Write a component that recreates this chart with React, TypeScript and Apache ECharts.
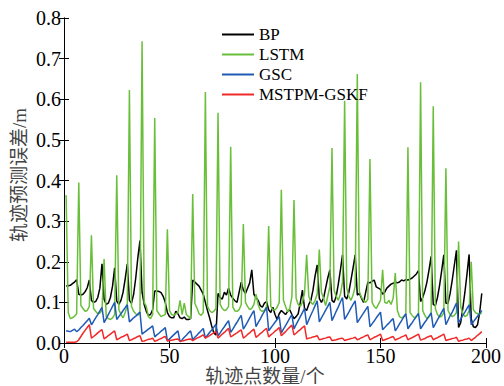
import React, { useEffect, useRef } from "react";
import * as echarts from "echarts";

// x positions: trajectory points 1..198
const BP = [
  0.140, 0.141, 0.142, 0.146, 0.150, 0.156,
  0.120, 0.118, 0.120, 0.126, 0.136, 0.155,
  0.105, 0.100, 0.102, 0.112, 0.135, 0.195,
  0.108, 0.095, 0.098, 0.112, 0.140, 0.185,
  0.103, 0.095, 0.105, 0.125, 0.158, 0.195,
  0.105, 0.098, 0.120, 0.160, 0.210, 0.252,
  0.125, 0.095, 0.078, 0.068, 0.070, 0.082,
  0.128, 0.128, 0.127, 0.124, 0.115, 0.100,
  0.075, 0.065, 0.062, 0.062, 0.078, 0.072,
  0.062, 0.060, 0.064, 0.058, 0.058, 0.060,
  0.155, 0.150, 0.145, 0.140, 0.130, 0.120,
  0.100, 0.080, 0.062, 0.042, 0.025, 0.020,
  0.122, 0.112, 0.108, 0.125, 0.118, 0.135,
  0.118, 0.110, 0.104, 0.100, 0.125, 0.150,
  0.130, 0.122, 0.135, 0.148, 0.180, 0.120,
  0.112, 0.105, 0.092, 0.088, 0.098, 0.102,
  0.082, 0.075, 0.088, 0.070, 0.058, 0.072,
  0.080, 0.075, 0.070, 0.078, 0.082, 0.070,
  0.060, 0.065, 0.072, 0.100, 0.130, 0.085,
  0.080, 0.095, 0.105, 0.130, 0.165, 0.192,
  0.110, 0.100, 0.110, 0.135, 0.160, 0.180,
  0.105, 0.100, 0.115, 0.145, 0.180, 0.217,
  0.115, 0.108, 0.125, 0.155, 0.185, 0.217,
  0.118, 0.122, 0.110, 0.100, 0.125, 0.150,
  0.148, 0.152, 0.155, 0.138, 0.135, 0.132,
  0.120, 0.125, 0.135, 0.140, 0.145, 0.147,
  0.150, 0.148, 0.150, 0.155, 0.153, 0.156,
  0.155, 0.157, 0.160, 0.165, 0.170, 0.178,
  0.102, 0.112, 0.128, 0.150, 0.180, 0.213,
  0.095, 0.092, 0.112, 0.142, 0.178, 0.217,
  0.098, 0.098, 0.122, 0.155, 0.192, 0.228,
  0.038, 0.050, 0.085, 0.125, 0.170, 0.218,
  0.060, 0.040, 0.038, 0.045, 0.075, 0.122,
];

const LSTM = [
  0.364, 0.075, 0.060, 0.062, 0.066, 0.072,
  0.395, 0.092, 0.085, 0.078, 0.080, 0.090,
  0.265, 0.085, 0.078, 0.072, 0.074, 0.080,
  0.207, 0.065, 0.060, 0.058, 0.062, 0.070,
  0.413, 0.082, 0.070, 0.062, 0.075, 0.093,
  0.623, 0.090, 0.078, 0.072, 0.068, 0.075,
  0.743, 0.100, 0.090, 0.065, 0.060, 0.070,
  0.554, 0.080, 0.072, 0.065, 0.068, 0.070,
  0.280, 0.080, 0.070, 0.068, 0.072, 0.075,
  0.105, 0.070, 0.098, 0.070, 0.065, 0.060,
  0.367, 0.098, 0.086, 0.072, 0.068, 0.075,
  0.618, 0.090, 0.080, 0.075, 0.078, 0.085,
  0.567, 0.095, 0.085, 0.080, 0.082, 0.090,
  0.483, 0.089, 0.079, 0.078, 0.082, 0.095,
  0.293, 0.100, 0.090, 0.082, 0.085, 0.095,
  0.120, 0.095, 0.081, 0.078, 0.080, 0.090,
  0.288, 0.090, 0.082, 0.081, 0.088, 0.100,
  0.377, 0.105, 0.090, 0.077, 0.085, 0.114,
  0.352, 0.110, 0.095, 0.090, 0.100, 0.123,
  0.217, 0.115, 0.100, 0.095, 0.105, 0.120,
  0.230, 0.125, 0.110, 0.092, 0.115, 0.139,
  0.480, 0.130, 0.115, 0.105, 0.120, 0.150,
  0.596, 0.135, 0.115, 0.105, 0.118, 0.140,
  0.662, 0.126, 0.112, 0.105, 0.100, 0.108,
  0.453, 0.100, 0.090, 0.085, 0.095, 0.105,
  0.180, 0.100, 0.098, 0.105, 0.095, 0.110,
  0.172, 0.080, 0.065, 0.062, 0.065, 0.070,
  0.482, 0.075, 0.068, 0.062, 0.066, 0.072,
  0.642, 0.080, 0.068, 0.060, 0.065, 0.072,
  0.583, 0.085, 0.070, 0.064, 0.066, 0.075,
  0.430, 0.080, 0.070, 0.065, 0.068, 0.075,
  0.250, 0.090, 0.072, 0.065, 0.068, 0.080,
  0.200, 0.082, 0.075, 0.072, 0.070, 0.075,
];

const GSC = [
  0.030, 0.029, 0.028, 0.031, 0.034, 0.028,
  0.032, 0.038, 0.043, 0.049, 0.055, 0.061,
  0.045, 0.053, 0.062, 0.070, 0.079, 0.088,
  0.050, 0.060, 0.070, 0.080, 0.090, 0.100,
  0.058, 0.065, 0.072, 0.080, 0.087, 0.094,
  0.052, 0.057, 0.062, 0.066, 0.071, 0.076,
  0.022, 0.026, 0.030, 0.034, 0.038, 0.042,
  0.015, 0.020, 0.024, 0.029, 0.033, 0.038,
  0.005, 0.010, 0.015, 0.020, 0.025, 0.030,
  0.003, 0.008, 0.014, 0.019, 0.025, 0.030,
  0.008, 0.014, 0.019, 0.025, 0.030, 0.036,
  0.012, 0.019, 0.026, 0.032, 0.039, 0.046,
  0.018, 0.025, 0.033, 0.040, 0.048, 0.055,
  0.026, 0.034, 0.043, 0.051, 0.060, 0.068,
  0.034, 0.043, 0.052, 0.062, 0.071, 0.080,
  0.040, 0.050, 0.059, 0.069, 0.078, 0.088,
  0.030, 0.037, 0.044, 0.051, 0.058, 0.065,
  0.025, 0.034, 0.043, 0.052, 0.061, 0.070,
  0.035, 0.045, 0.055, 0.065, 0.075, 0.085,
  0.045, 0.057, 0.069, 0.080, 0.092, 0.104,
  0.052, 0.062, 0.071, 0.081, 0.090, 0.100,
  0.055, 0.066, 0.078, 0.089, 0.101, 0.112,
  0.058, 0.067, 0.076, 0.086, 0.095, 0.104,
  0.050, 0.058, 0.066, 0.074, 0.082, 0.090,
  0.040, 0.047, 0.054, 0.062, 0.069, 0.076,
  0.033, 0.038, 0.044, 0.049, 0.055, 0.060,
  0.030, 0.038, 0.047, 0.055, 0.064, 0.072,
  0.035, 0.043, 0.050, 0.058, 0.065, 0.073,
  0.035, 0.043, 0.051, 0.058, 0.066, 0.074,
  0.038, 0.047, 0.057, 0.066, 0.076, 0.085,
  0.045, 0.056, 0.067, 0.076, 0.087, 0.098,
  0.050, 0.059, 0.068, 0.076, 0.085, 0.094,
  0.045, 0.052, 0.059, 0.066, 0.073, 0.080,
];

const MSTPM_GSKF = [
  0.002, 0.002, 0.002, 0.002, 0.002, 0.003,
  0.008, 0.016, 0.024, 0.031, 0.038, 0.045,
  0.012, 0.016, 0.020, 0.025, 0.029, 0.033,
  0.010, 0.014, 0.018, 0.022, 0.026, 0.030,
  0.008, 0.011, 0.014, 0.016, 0.019, 0.022,
  0.006, 0.008, 0.011, 0.013, 0.016, 0.018,
  0.004, 0.005, 0.007, 0.009, 0.010, 0.012,
  0.004, 0.006, 0.009, 0.011, 0.014, 0.016,
  0.005, 0.006, 0.007, 0.008, 0.009, 0.010,
  0.004, 0.005, 0.006, 0.008, 0.009, 0.010,
  0.006, 0.009, 0.012, 0.014, 0.017, 0.020,
  0.012, 0.015, 0.018, 0.022, 0.025, 0.028,
  0.012, 0.017, 0.022, 0.026, 0.031, 0.036,
  0.015, 0.018, 0.022, 0.025, 0.029, 0.032,
  0.012, 0.016, 0.021, 0.025, 0.030, 0.034,
  0.014, 0.018, 0.023, 0.027, 0.032, 0.036,
  0.015, 0.020, 0.024, 0.029, 0.033, 0.038,
  0.018, 0.023, 0.028, 0.034, 0.039, 0.044,
  0.020, 0.024, 0.029, 0.033, 0.038, 0.042,
  0.010, 0.012, 0.013, 0.015, 0.016, 0.018,
  0.008, 0.009, 0.011, 0.012, 0.014, 0.015,
  0.006, 0.007, 0.008, 0.010, 0.011, 0.012,
  0.006, 0.008, 0.009, 0.011, 0.012, 0.014,
  0.008, 0.010, 0.013, 0.015, 0.018, 0.020,
  0.008, 0.011, 0.014, 0.016, 0.019, 0.022,
  0.006, 0.008, 0.010, 0.012, 0.014, 0.016,
  0.007, 0.010, 0.012, 0.015, 0.017, 0.020,
  0.008, 0.011, 0.013, 0.016, 0.019, 0.022,
  0.007, 0.009, 0.011, 0.014, 0.016, 0.018,
  0.008, 0.011, 0.013, 0.016, 0.019, 0.022,
  0.006, 0.008, 0.009, 0.011, 0.012, 0.014,
  0.004, 0.006, 0.007, 0.009, 0.010, 0.012,
  0.006, 0.010, 0.014, 0.019, 0.023, 0.028,
];

const SERIES_NAMES = ["BP", "LSTM", "GSC", "MSTPM-GSKF"];
const SERIES_COLORS = ["#000000", "#6abf3a", "#1f5bb5", "#f02a2a"];
const SERIES_VALUES = [BP, LSTM, GSC, MSTPM_GSKF];

const X_NAME = "轨迹点数量/个";
const Y_NAME = "轨迹预测误差/m";

const SERIF = "'Liberation Serif', 'Times New Roman', serif";
const CJK = "'Liberation Serif', 'Noto Sans CJK SC', serif";

export default function App() {
  const ref = useRef<HTMLDivElement>(null);

  useEffect(() => {
    if (!ref.current) return;
    const chart = echarts.init(ref.current, undefined, { renderer: "svg" });

    const axisCommon = {
      axisLine: { show: true, lineStyle: { color: "#000", width: 1 } },
      axisTick: { show: true, inside: true, length: 5, lineStyle: { color: "#000", width: 1 } },
      splitLine: { show: false },
    };

    const series = SERIES_VALUES.map((vals, k) => ({
      name: SERIES_NAMES[k],
      type: "line",
      data: vals.map((v, i) => [i + 1, v]),
      symbol: "none",
      showSymbol: false,
      lineStyle: { color: SERIES_COLORS[k], width: 1.5 },
      itemStyle: { color: SERIES_COLORS[k] },
      z: 2 + k,
    }));

    chart.setOption({
      animation: false,
      backgroundColor: "#ffffff",
      grid: { left: 64, right: 18, top: 18, bottom: 43, containLabel: false },
      legend: {
        orient: "vertical",
        left: 222,
        top: 26,
        padding: 0,
        icon: "rect",
        itemWidth: 32,
        itemHeight: 2,
        itemGap: 3,
        data: SERIES_NAMES,
        textStyle: { fontFamily: SERIF, fontSize: 17, color: "#000" },
      },
      xAxis: [
        {
          type: "value",
          min: 0,
          max: 200,
          interval: 50,
          ...axisCommon,
          axisLabel: { fontFamily: SERIF, fontSize: 20, color: "#000", margin: 3 },
        },
        {
          type: "value",
          position: "top",
          min: 0,
          max: 200,
          interval: 50,
          ...axisCommon,
          axisLabel: { show: false },
        },
      ],
      yAxis: [
        {
          type: "value",
          min: 0,
          max: 0.8,
          interval: 0.1,
          ...axisCommon,
          axisLabel: {
            fontFamily: SERIF,
            fontSize: 20,
            color: "#000",
            margin: 3,
            formatter: (v: number) => v.toFixed(1),
          },
        },
        {
          type: "value",
          position: "right",
          min: 0,
          max: 0.8,
          interval: 0.1,
          ...axisCommon,
          axisLabel: { show: false },
        },
      ],
      graphic: [
        {
          type: "text",
          x: 265,
          y: 376,
          style: {
            text: X_NAME,
            fontFamily: CJK,
            fontSize: 19,
            fill: "#444",
            align: "center",
            verticalAlign: "middle",
          },
        },
        {
          type: "text",
          x: 19,
          y: 175,
          rotation: Math.PI / 2,
          style: {
            text: Y_NAME,
            fontFamily: CJK,
            fontSize: 19,
            fill: "#444",
            align: "center",
            verticalAlign: "middle",
          },
        },
      ],
      series,
    });

    return () => chart.dispose();
  }, []);

  return (
    <div
      ref={ref}
      style={{ position: "absolute", left: 0, top: 0, width: 504, height: 386, background: "#fff" }}
    />
  );
}
